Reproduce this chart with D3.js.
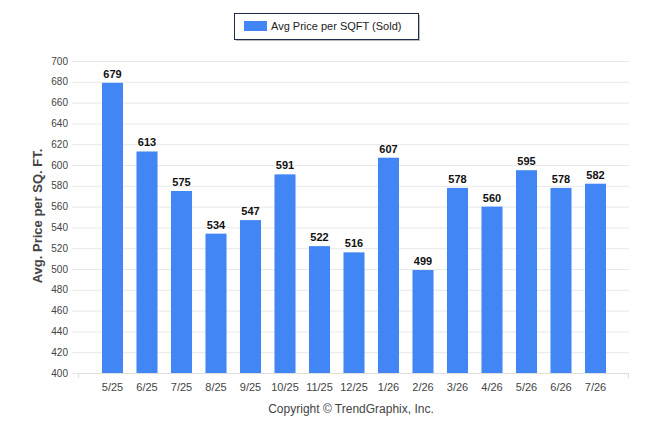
<!DOCTYPE html>
<html lang="en">
<head>
<meta charset="utf-8">
<style>
  body { margin: 0; background: #fff; }
  svg { font-family: "Liberation Sans", Arial, sans-serif; }
  .grid line { stroke: #e8e8e8; }
</style>
</head>
<body>
<div id="container"></div>
<script src="https://cdnjs.cloudflare.com/ajax/libs/d3/7.8.5/d3.min.js"></script>
<script>
  // months and sold price per square foot
  var months = ["5/25","6/25","7/25","8/25","9/25","10/25","11/25","12/25","1/26","2/26","3/26","4/26","5/26","6/26","7/26"];
  var prices = [679, 613, 575, 534, 547, 591, 522, 516, 607, 499, 578, 560, 595, 578, 582];
  var yTicks = d3.range(400, 701, 20);

  var svg = d3.select("#container").append("svg")
    .attr("width", 646).attr("height", 434);

  var x = d3.scaleBand().domain(months).range([95.25, 612.75]).paddingInner(0.39).paddingOuter(0.195);
  var y = d3.scaleLinear().domain([400, 700]).range([373, 61]);

  // gridlines
  svg.append("g").attr("class", "grid")
    .selectAll("line").data(yTicks).enter().append("line")
    .attr("x1", 72).attr("x2", 629)
    .attr("y1", d => y(d) + 0.5).attr("y2", d => y(d) + 0.5);

  // y tick labels
  svg.append("g").selectAll("text").data(yTicks).enter().append("text")
    .attr("x", 68).attr("y", d => y(d) + 3.5)
    .attr("text-anchor", "end").attr("font-size", 10).attr("fill", "#444")
    .text(d => d);

  // x axis line + ticks
  svg.append("line").attr("x1", 78).attr("x2", 629).attr("y1", 373.5).attr("y2", 373.5).attr("stroke", "#ddd");
  svg.append("g").selectAll("line").data([78.5, 628.5]).enter().append("line")
    .attr("x1", d => d).attr("x2", d => d).attr("y1", 373).attr("y2", 378).attr("stroke", "#ddd");

  svg.append("g").selectAll("text").data(months).enter().append("text")
    .attr("x", d => x(d) + x.bandwidth() / 2).attr("y", 391)
    .attr("text-anchor", "middle").attr("font-size", 11).attr("fill", "#444")
    .text(d => d);

  // bars
  svg.append("g").selectAll("rect").data(prices).enter().append("rect")
    .attr("x", (d, i) => x(months[i]))
    .attr("width", x.bandwidth())
    .attr("y", d => y(d))
    .attr("height", d => y(400) - y(d))
    .attr("fill", "#4285f4");

  svg.append("g").selectAll("text").data(prices).enter().append("text")
    .attr("x", (d, i) => x(months[i]) + x.bandwidth() / 2)
    .attr("y", d => y(d) - 5)
    .attr("text-anchor", "middle").attr("font-size", 11).attr("font-weight", "bold").attr("fill", "#111")
    .text(d => d);

  // y axis title
  svg.append("text")
    .attr("transform", "translate(42,216) rotate(-90)")
    .attr("text-anchor", "middle").attr("font-size", 13).attr("font-weight", "bold").attr("fill", "#444")
    .text("Avg. Price per SQ. FT.");

  // legend
  svg.append("rect").attr("x", 236).attr("y", 15).attr("width", 184).attr("height", 26).attr("fill", "#bbb");
  svg.append("rect").attr("x", 234.5).attr("y", 13.5).attr("width", 184).attr("height", 26)
    .attr("fill", "#fff").attr("stroke", "#1f2d4d");
  svg.append("rect").attr("x", 244).attr("y", 21).attr("width", 23).attr("height", 10).attr("fill", "#4285f4");
  svg.append("text").attr("x", 271).attr("y", 30).attr("font-size", 11).attr("fill", "#222")
    .text("Avg Price per SQFT (Sold)");

  // footer
  svg.append("text").attr("x", 351).attr("y", 413).attr("text-anchor", "middle")
    .attr("font-size", 12).attr("fill", "#444").text("Copyright © TrendGraphix, Inc.");
</script>
</body>
</html>
